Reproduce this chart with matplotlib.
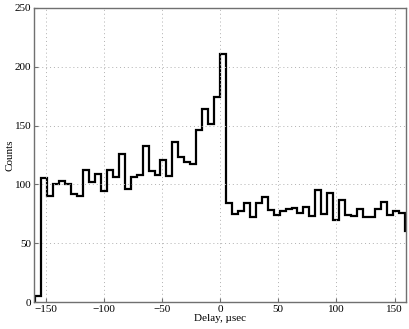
import numpy as np
import matplotlib.pyplot as plt

plt.rcParams['font.family'] = ['Liberation Serif', 'DejaVu Serif']

bin_width = 5.12
counts = [5,
          105, 90, 100, 103, 100, 91.5, 90, 112, 102, 109,
          94, 112, 106, 126, 96, 106, 108, 133, 111, 108,
          121, 107, 136, 123, 119, 117, 146, 164, 151, 174,
          211, 84, 75, 77, 84, 72, 84, 89, 78, 74,
          77, 79, 80, 76, 81, 73, 95, 75, 93, 70,
          87, 74, 73, 79, 72, 72, 79, 85, 74, 77,
          76, 60]
edges = np.arange(-31, -31 + len(counts) + 1) * bin_width

xticks = [-150, -100, -50, 0, 50, 100, 150]
yticks = [0, 50, 100, 150, 200, 250]

fig = plt.figure(figsize=(4.09, 3.29), dpi=100)
ax = fig.add_axes([0.083, 0.082, 0.910, 0.894])
ax.stairs(counts, edges, color='black', linewidth=1.6, baseline=0)
ax.set_xlim(-160, 160)
ax.set_ylim(0, 250)
ax.set_xticks(xticks)
ax.set_yticks(yticks)
ax.grid(True, linestyle=(0, (1, 3)), color='#b0b0b0', linewidth=0.7)
ax.tick_params(direction='in', labelsize=8, length=3, color='#707070', pad=2)
for s in ax.spines.values():
    s.set_color('#707070')
    s.set_linewidth(1.0)
ax.set_xlabel('Delay, µsec', fontsize=8, labelpad=0)
ax.set_ylabel('Counts', fontsize=8, labelpad=0)
fig.savefig('out.png', dpi=100)
